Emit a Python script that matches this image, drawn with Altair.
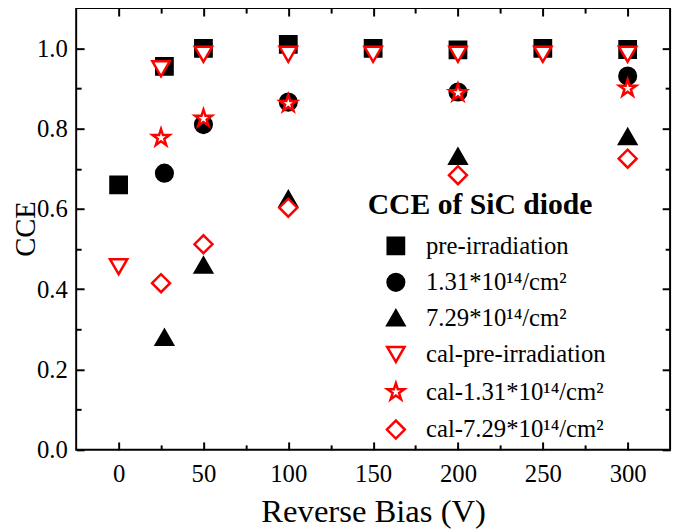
import altair as alt
import pandas as pd

# ---- data ----
series_names = [
    "pre-irradiation",
    "1.31*10¹⁴/cm²",
    "7.29*10¹⁴/cm²",
    "cal-pre-irradiation",
    "cal-1.31*10¹⁴/cm²",
    "cal-7.29*10¹⁴/cm²",
]

pre_x = [0, 27, 50, 100, 150, 200, 250, 300]
pre_y = [0.66, 0.955, 1.0, 1.01, 1.0, 0.996, 1.0, 0.997]

f131_x = [27, 50, 100, 200, 300]
f131_y = [0.689, 0.81, 0.866, 0.891, 0.931]

f729_x = [27, 50, 100, 200, 300]
f729_y = [0.28, 0.46, 0.625, 0.731, 0.78]

cal_pre_x = [0, 25, 50, 100, 150, 200, 250, 300]
cal_pre_y = [0.456, 0.949, 0.985, 0.985, 0.985, 0.985, 0.985, 0.985]

cal_131_x = [25, 50, 100, 200, 300]
cal_131_y = [0.777, 0.825, 0.862, 0.889, 0.90]

cal_729_x = [25, 50, 100, 200, 300]
cal_729_y = [0.415, 0.512, 0.603, 0.684, 0.725]

x_major = [0, 50, 100, 150, 200, 250, 300]
x_minor = [25, 75, 125, 175, 225, 275]
y_major = [0.0, 0.2, 0.4, 0.6, 0.8, 1.0]
y_minor = [0.1, 0.3, 0.5, 0.7, 0.9]

xs = [pre_x, f131_x, f729_x, cal_pre_x, cal_131_x, cal_729_x]
ys = [pre_y, f131_y, f729_y, cal_pre_y, cal_131_y, cal_729_y]
rows = []
for name, sx, sy in zip(series_names, xs, ys):
    for a, b in zip(sx, sy):
        rows.append({"bias": a, "cce": b, "series": name})
df = pd.DataFrame(rows)

# ---- styles ----
STAR = ("M0,-1L0.2245,-0.309L0.951,-0.309L0.363,0.118L0.588,0.809L0,0.382"
        "L-0.588,0.809L-0.363,0.118L-0.951,-0.309L-0.2245,-0.309Z")
shapes = ["square", "circle", "triangle-up", "triangle-down", STAR, "diamond"]
strokes = ["black", "black", "black", "#ff0000", "#ff0000", "#ff0000"]
fills = ["black", "black", "black", "white", "white", "white"]
sizes = [272, 331, 400, 370, 441, 484]

FONT = "Liberation Serif"
XDOM = [-25, 325]
YDOM = [0, 1.1]

xs_scale = alt.Scale(domain=XDOM, nice=False, zero=False)
ys_scale = alt.Scale(domain=YDOM, nice=False)

legend = alt.Legend(
    orient="none", legendX=295, legendY=184,
    titleFont=FONT, titleFontSize=30, titleFontWeight="bold", titleColor="black",
    titlePadding=14, titleLimit=400,
    labelFont=FONT, labelFontSize=25, labelColor="black", labelOffset=18, labelLimit=400,
    symbolStrokeWidth=2.5, symbolOffset=16, rowPadding=10, padding=0,
)

points = alt.Chart(df).mark_point(filled=False, strokeWidth=2.5, opacity=1).encode(
    x=alt.X("bias:Q", scale=xs_scale,
            axis=alt.Axis(orient="bottom", values=x_major, ticks=False, domain=False,
                          grid=False, labelPadding=12, labelFont=FONT, labelFontSize=25,
                          labelColor="black", title="Reverse Bias (V)", titleFont=FONT,
                          titleFontSize=33, titleFontWeight="normal", titleColor="black",
                          titlePadding=10)),
    y=alt.Y("cce:Q", scale=ys_scale,
            axis=alt.Axis(orient="left", values=y_major, format=".1f", ticks=False,
                          domain=False, grid=False, labelPadding=9, labelFont=FONT,
                          labelFontSize=25, labelColor="black", title="CCE",
                          titleFont=FONT, titleFontSize=29, titleFontWeight="normal",
                          titleColor="black", titleAngle=270, titleAlign="center",
                          titleBaseline="alphabetic", titleX=-42, titleY=223)),
    color=alt.Color("series:N", scale=alt.Scale(domain=series_names, range=strokes),
                    sort=series_names, title="CCE of SiC diode", legend=legend),
    fill=alt.Fill("series:N", scale=alt.Scale(domain=series_names, range=fills),
                  sort=series_names, title="CCE of SiC diode", legend=legend),
    shape=alt.Shape("series:N", scale=alt.Scale(domain=series_names, range=shapes),
                    sort=series_names, title="CCE of SiC diode", legend=legend),
    size=alt.Size("series:N", scale=alt.Scale(domain=series_names, range=sizes),
                  sort=series_names, title="CCE of SiC diode", legend=legend),
)


def tick_layer(xorient, yorient, xv, yv, ln):
    return alt.Chart(df).mark_point(opacity=0).encode(
        x=alt.X("bias:Q", scale=xs_scale,
                axis=alt.Axis(orient=xorient, values=xv, labels=False, domain=False,
                              grid=False, ticks=True, tickSize=ln, tickWidth=2,
                              tickColor="black", offset=-ln, title=None)),
        y=alt.Y("cce:Q", scale=ys_scale,
                axis=alt.Axis(orient=yorient, values=yv, labels=False, domain=False,
                              grid=False, ticks=True, tickSize=ln, tickWidth=2,
                              tickColor="black", offset=-ln, title=None)),
    )


chart = alt.layer(
    tick_layer("bottom", "left", x_major, y_major, 8),
    tick_layer("bottom", "left", x_minor, y_minor, 5),
    tick_layer("top", "right", x_major, y_major, 8),
    tick_layer("top", "right", x_minor, y_minor, 5),
    points,
).resolve_axis(x="independent", y="independent").properties(
    width=601, height=447,
    autosize=alt.AutoSizeParams(type="none"),
    padding={"left": 69, "top": -3, "right": 7, "bottom": 80},
).configure(
    font=FONT
).configure_view(
    stroke="black", strokeWidth=2
)

chart.save("out.html", embed_options={"renderer": "svg", "actions": False})
